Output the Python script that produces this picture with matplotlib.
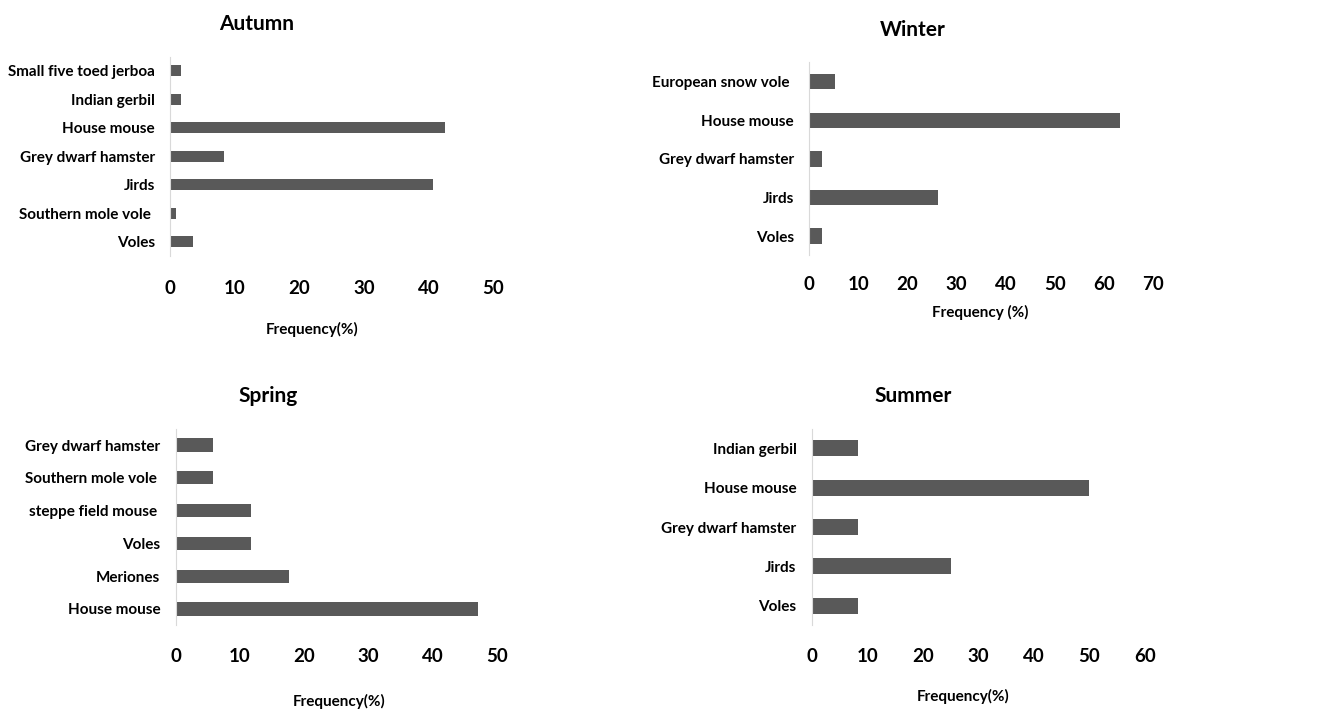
import matplotlib
matplotlib.use("Agg")
import matplotlib.pyplot as plt

# data, listed top to bottom as in the picture
autumn_labels = ["Small five toed jerboa", "Indian gerbil", "House mouse",
                 "Grey dwarf hamster", "Jirds", "Southern mole vole ", "Voles"]
autumn_values = [1.7, 1.7, 42.6, 8.4, 40.7, 0.9, 3.6]

winter_labels = ["European snow vole ", "House mouse", "Grey dwarf hamster",
                 "Jirds", "Voles"]
winter_values = [5.3, 63.2, 2.6, 26.3, 2.6]

spring_labels = ["Grey dwarf hamster", "Southern mole vole ", "steppe field mouse ",
                 "Voles", "Meriones", "House mouse"]
spring_values = [5.88, 5.88, 11.76, 11.76, 17.65, 47.06]

summer_labels = ["Indian gerbil", "House mouse", "Grey dwarf hamster",
                 "Jirds", "Voles"]
summer_values = [8.33, 50.0, 8.33, 25.0, 8.33]

W, H = 1333, 710
BAR = "#595959"
AX = "#d9d9d9"
plt.rcParams['font.family'] = ['Lato', 'DejaVu Sans']
plt.rcParams['font.weight'] = 'bold'

fig = plt.figure(figsize=(W / 100, H / 100), dpi=100)


def panel(px, labels, values, xmax, title, tpos, xlabel, lpos, pad):
    left, right, top, bottom = px
    ax = fig.add_axes([left / W, 1 - bottom / H, (right - left) / W, (bottom - top) / H])
    n = len(labels)
    ax.barh(range(n), values, height=0.4, color=BAR)
    ax.set_ylim(n - 0.5, -0.5)
    ax.set_xlim(0, xmax)
    ax.set_xticks(range(0, xmax + 1, 10))
    ax.set_yticks(range(n))
    ax.set_yticklabels(labels, fontsize=11, fontweight='bold')
    for t in ax.get_xticklabels():
        t.set_fontsize(13.5)
        t.set_fontweight('bold')
    for s in ["top", "right", "bottom"]:
        ax.spines[s].set_visible(False)
    ax.spines["left"].set_color(AX)
    ax.tick_params(axis="both", length=0)
    ax.tick_params(axis="x", pad=pad)
    ax.tick_params(axis="y", pad=11)
    fig.text(tpos[0] / W, 1 - tpos[1] / H, title, ha="center", va="center",
             fontsize=15, fontweight="bold")
    fig.text(lpos[0] / W, 1 - lpos[1] / H, xlabel, ha="center", va="center",
             fontsize=11, fontweight="bold")
    return ax


panel((170, 493, 56.5, 256), autumn_labels, autumn_values, 50,
      "Autumn", (257, 24), "Frequency(%)", (312, 329), 17)
panel((809, 1153, 62.4, 255.3), winter_labels, winter_values, 70,
      "Winter", (913, 30), "Frequency (%)", (980, 312), 15)
panel((175.7, 496.7, 428.6, 625.4), spring_labels, spring_values, 50,
      "Spring", (268, 396), "Frequency(%)", (339, 701), 16)
panel((811.7, 1145, 428.7, 625.3), summer_labels, summer_values, 60,
      "Summer", (913, 396), "Frequency(%)", (963, 696), 16)

fig.savefig("out.png", dpi=100)
